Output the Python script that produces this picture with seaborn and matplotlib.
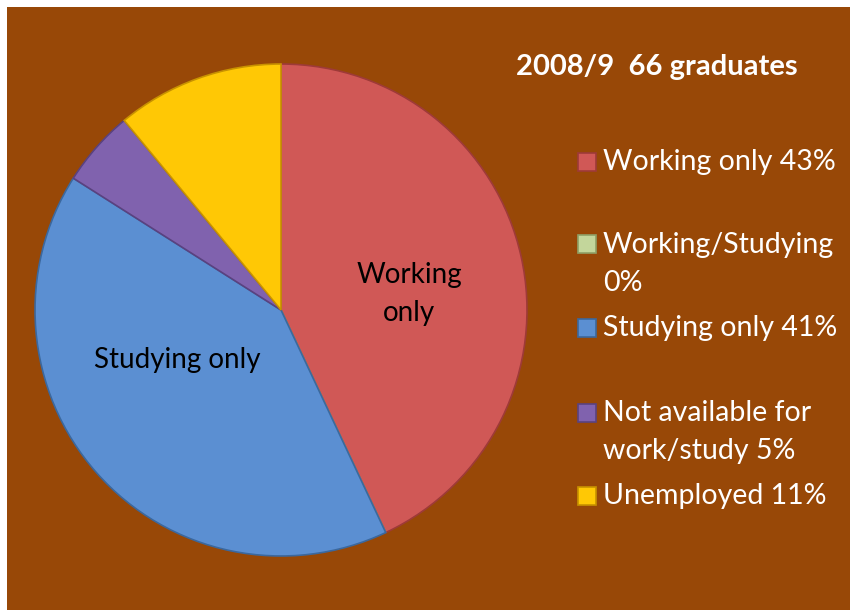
import matplotlib
matplotlib.use("Agg")
import matplotlib.pyplot as plt
import matplotlib.patches as mpatches
import seaborn as sns

categories = ["Working only", "Working/Studying", "Studying only",
              "Not available for work/study", "Unemployed"]
values = [43, 0, 41, 5, 11]
legend_labels = ["Working only 43%", "Working/Studying\n0%", "Studying only 41%",
                 "Not available for\nwork/study 5%", "Unemployed 11%"]
slice_labels = ["Working\nonly", "", "Studying only", "", ""]
title_text = "2008/9  66 graduates"

colors = ["#D05856", "#C3D69B", "#5B8FD2", "#8062AE", "#FFC805"]
edge_colors = ["#9E3A38", "#8FA066", "#3B689E", "#5A4280", "#C89200"]
bg = "#984807"

sns.set_theme(style="white")
plt.rcParams["font.family"] = ["Lato", "DejaVu Sans"]

fig = plt.figure(figsize=(8.5, 6.1), dpi=100)
fig.patch.set_facecolor("white")
fig.patches.append(mpatches.Rectangle((7 / 850, 0), 1 - 7 / 850, 1 - 7 / 610,
                                      transform=fig.transFigure, facecolor=bg,
                                      edgecolor="none", zorder=-5))

ax = fig.add_axes([0.0412, 0.0885, 0.5788, 0.8066])
ax.set_zorder(2)
ax.set_facecolor("none")
wedges, _ = ax.pie(values, colors=colors, startangle=90, counterclock=False,
                   radius=1.0, wedgeprops=dict(linewidth=1.2))
for w, ec in zip(wedges, edge_colors):
    w.set_edgecolor(ec)
ax.set_xlim(-1, 1)
ax.set_ylim(-1, 1)
ax.set_aspect("equal")
ax.axis("off")

label_pos = [(0.52, 0.065), None, (-0.42, -0.205), None, None]
for lbl, pos in zip(slice_labels, label_pos):
    if lbl and pos:
        ax.text(pos[0], pos[1], lbl, ha="center", va="center", fontsize=20,
                color="black", linespacing=1.55)

fig.text(657 / 850, 1 - 67 / 610, title_text, ha="center", va="center",
         fontsize=21, fontweight="bold", color="white")

# legend (manual placement to mimic uneven spacing)
entry_y = [162, 264, 328, 432, 496]
for lab, c, ec, y in zip(legend_labels, colors, edge_colors, entry_y):
    nlines = lab.count("\n") + 1
    first_y = y - (nlines - 1) * 19.5
    sq = 18
    fig.patches.append(mpatches.Rectangle((578 / 850, 1 - (first_y + sq / 2) / 610),
                                          sq / 850, sq / 610,
                                          transform=fig.transFigure,
                                          facecolor=c, edgecolor=ec, linewidth=1.2,
                                          zorder=3))
    fig.text(603 / 850, 1 - y / 610, lab, ha="left", va="center", fontsize=20.5,
             color="white", linespacing=1.55)

fig.savefig("out.png", dpi=100, facecolor=fig.get_facecolor())
